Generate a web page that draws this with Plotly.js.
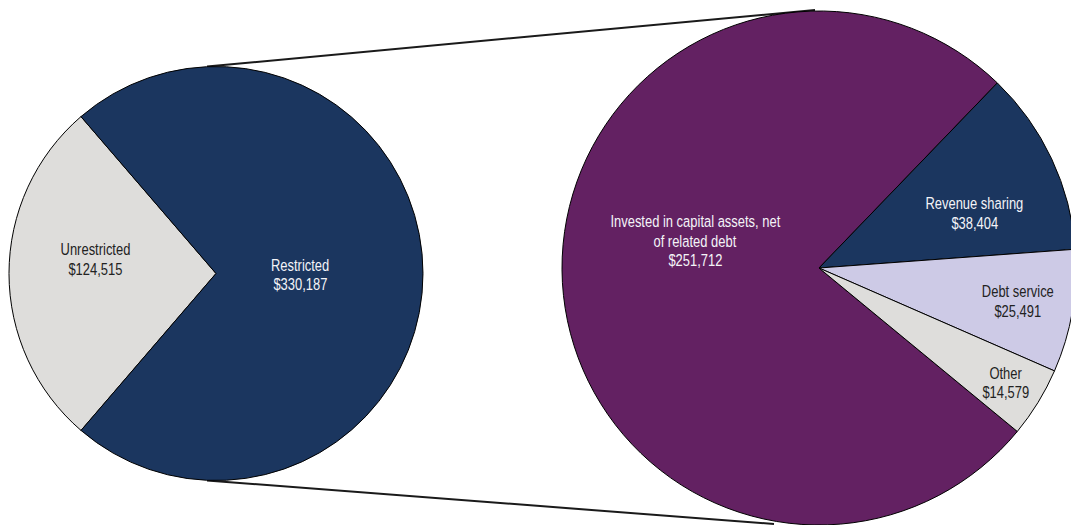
<!DOCTYPE html>
<html>
<head>
<meta charset="utf-8">
<script src="https://cdn.plot.ly/plotly-3.0.1.min.js"></script>
<style>
html,body{margin:0;padding:0;overflow:hidden;background:#fff;}
#chart{width:1080px;height:525px;}
/* emulate a narrow sans face (Arial Narrow-like) */
#chart .annotation-text{transform-box:fill-box;transform-origin:center;transform:scaleX(0.785);}
</style>
</head>
<body>
<div id="chart"></div>
<script>
// ---- data ----
const netAssetLabels = ["Unrestricted", "Restricted"];
const netAssetValues = [124515, 330187];

const restrictedLabels = ["Invested in capital assets, net<br>of related debt", "Revenue sharing", "Debt service", "Other"];
const restrictedValues = [251712, 38404, 25491, 14579];

// ---- styling / geometry ----
const W = 1080, H = 525;
const FONT = '"Liberation Sans", Arial, sans-serif';
const FONT_SIZE = 16.5;
const LINE_GAP = 19.5;

const L = {cx: 216, cy: 273.5, r: 207};
const R = {cx: 819, cy: 268, r: 257};

// label block centres, as fractions of the pie radius from the pie centre
const leftLabelOffsets = [[-0.58, -0.07], [0.406, 0.005]];
const rightLabelOffsets = [[-0.482, -0.107], [0.607, -0.214], [0.774, 0.128], [0.728, 0.446]];
const leftTextColors = ['#222222', '#f4f4f8'];
const rightTextColors = ['#f4f4f8', '#f4f4f8', '#222222', '#222222'];

function dom(c) {
  return {
    x: [(c.cx - c.r) / W, (c.cx + c.r) / W],
    y: [(H - (c.cy + c.r)) / H, (H - (c.cy - c.r)) / H]
  };
}
function px(x) { return x / W; }
function py(y) { return (H - y) / H; }

const leftPie = {
  type: 'pie',
  labels: netAssetLabels,
  values: netAssetValues,
  sort: false,
  direction: 'clockwise',
  rotation: -139.3,
  domain: dom(L),
  marker: {colors: ['#dedddb', '#1b365f'], line: {color: '#000', width: 1}},
  textinfo: 'none',
  hoverinfo: 'label+value',
  showlegend: false
};

const rightPie = {
  type: 'pie',
  labels: restrictedLabels,
  values: restrictedValues,
  sort: false,
  direction: 'clockwise',
  rotation: 129.5,
  domain: dom(R),
  marker: {colors: ['#632162', '#1b365f', '#cdcae6', '#dedddb'], line: {color: '#000', width: 1}},
  textinfo: 'none',
  hoverinfo: 'label+value',
  showlegend: false
};

function fmt(v) { return '$' + v.toLocaleString('en-US'); }

function labelAnnotations(labels, values, offsets, colors, c) {
  const out = [];
  labels.forEach((lab, i) => {
    const lines = lab.split('<br>').concat([fmt(values[i])]);
    const bx = c.cx + offsets[i][0] * c.r;
    const by = c.cy + offsets[i][1] * c.r;
    lines.forEach((t, j) => {
      const y = by + (j - (lines.length - 1) / 2) * LINE_GAP;
      out.push({
        xref: 'paper', yref: 'paper', x: px(bx), y: py(y),
        xanchor: 'center', yanchor: 'middle', showarrow: false,
        text: t, font: {family: FONT, size: FONT_SIZE, color: colors[i]}
      });
    });
  });
  return out;
}

const annotations = labelAnnotations(netAssetLabels, netAssetValues, leftLabelOffsets, leftTextColors, L)
  .concat(labelAnnotations(restrictedLabels, restrictedValues, rightLabelOffsets, rightTextColors, R));

const shapes = [
  {type: 'line', xref: 'paper', yref: 'paper', layer: 'below',
   x0: px(L.cx - 9), y0: py(L.cy - L.r), x1: px(R.cx - 4), y1: py(R.cy - R.r - 1),
   line: {color: '#1a1a1a', width: 2}},
  {type: 'line', xref: 'paper', yref: 'paper', layer: 'below',
   x0: px(L.cx - 9), y0: py(L.cy + L.r), x1: px(R.cx - 45), y1: py(H - 1),
   line: {color: '#1a1a1a', width: 2}}
];

const layout = {
  width: W, height: H,
  margin: {l: 0, r: 0, t: 0, b: 0, pad: 0},
  paper_bgcolor: '#ffffff',
  plot_bgcolor: '#ffffff',
  showlegend: false,
  shapes: shapes,
  annotations: annotations,
  font: {family: FONT}
};

Plotly.newPlot('chart', [leftPie, rightPie], layout, {displayModeBar: false, staticPlot: true});
</script>
</body>
</html>
